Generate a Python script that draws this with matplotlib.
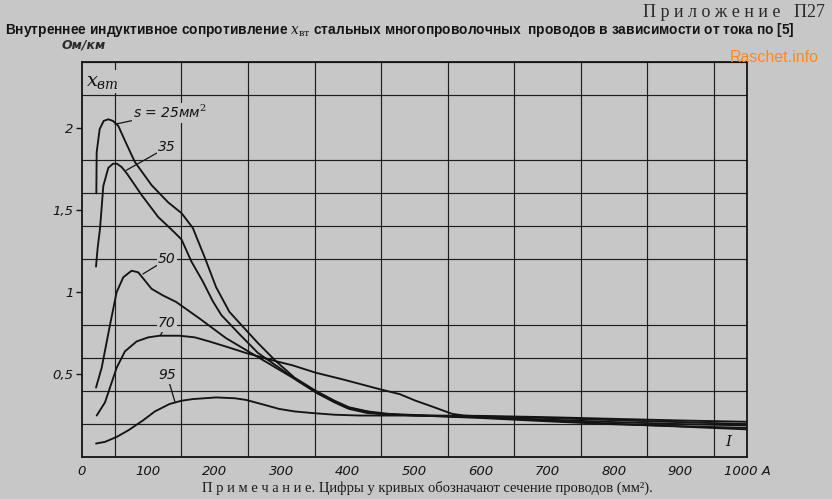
import matplotlib.pyplot as plt
from matplotlib.ticker import MultipleLocator

plt.rcParams['mathtext.fontset'] = 'dejavuserif'

# current, A  /  x_вт, Ом/км
x25 = [22, 22.5, 27, 33, 40, 47, 55, 65, 80, 105, 130, 150, 167, 185, 202, 222, 240,
       265, 292, 320, 352, 380, 402, 430, 462, 520, 600, 700, 800, 900, 1000]
y25 = [1.60, 1.85, 1.99, 2.04, 2.05, 2.04, 2.01, 1.92, 1.79, 1.65, 1.545, 1.48, 1.39,
       1.21, 1.03, 0.88, 0.80, 0.69, 0.58, 0.48, 0.40, 0.34, 0.30, 0.275, 0.26, 0.25,
       0.24, 0.22, 0.20, 0.183, 0.166]

x35 = [21.5, 24, 27.5, 32.5, 40, 47, 53, 60, 68, 90, 115, 135, 150, 165, 182, 197, 210,
       237, 265, 297, 325, 352, 380, 402, 430, 470, 520, 600, 700, 800, 900, 1000]
y35 = [1.155, 1.27, 1.385, 1.645, 1.755, 1.78, 1.78, 1.76, 1.72, 1.59, 1.456, 1.38,
       1.32, 1.185, 1.065, 0.945, 0.86, 0.745, 0.63, 0.54, 0.46, 0.39, 0.33, 0.29,
       0.265, 0.255, 0.248, 0.235, 0.215, 0.197, 0.185, 0.175]

x50 = [21.5, 30, 42.5, 52.5, 62.5, 75, 85, 95, 105, 122, 142, 177, 217, 267, 317, 357,
       397, 447, 500, 600, 700, 800, 900, 1000]
y50 = [0.42, 0.54, 0.80, 1.0, 1.09, 1.13, 1.12, 1.07, 1.02, 0.98, 0.94, 0.84, 0.72,
       0.60, 0.48, 0.38, 0.30, 0.26, 0.25, 0.24, 0.225, 0.21, 0.198, 0.19]

x70 = [22.5, 35, 52.5, 65, 82.5, 100, 117, 147, 170, 192, 220, 247, 292, 317, 352, 392,
       448, 478, 502, 530, 557, 575, 600, 700, 800, 900, 1000]
y70 = [0.25, 0.33, 0.54, 0.64, 0.70, 0.725, 0.735, 0.735, 0.725, 0.70, 0.665, 0.63,
       0.58, 0.555, 0.51, 0.47, 0.41, 0.38, 0.34, 0.30, 0.26, 0.25, 0.245, 0.235,
       0.222, 0.21, 0.198]

x95 = [21.5, 35, 52.5, 70, 92, 110, 132, 150, 167, 202, 230, 247, 270, 297, 320, 347,
       380, 417, 470, 517, 600, 700, 800, 900, 1000]
y95 = [0.08, 0.09, 0.12, 0.16, 0.22, 0.275, 0.32, 0.34, 0.35, 0.36, 0.355, 0.345, 0.32,
       0.29, 0.275, 0.265, 0.255, 0.25, 0.25, 0.25, 0.248, 0.24, 0.23, 0.22, 0.212]

curve_labels = [r's = 25мм$^{2}$', '35', '50', '70', '95']
# label anchor (text) and the point on the curve the leader goes to
label_xy = [(77, 2.09), (115, 1.88), (115, 1.20), (115, 0.81), (115, 0.495)]
leader_to = [(50, 2.02), (67, 1.74), (92, 1.11), (118, 0.735), (140, 0.335)]

xticks = list(range(0, 1001, 100))
xtick_labels = [str(v) for v in xticks[:-1]] + ['1000 A']
yticks = [0.5, 1, 1.5, 2]
ytick_labels = ['0,5', '1', '1,5', '2']

bg = '#c7c7c7'
ink = '#141414'

fig = plt.figure(figsize=(8.32, 4.99), dpi=100, facecolor=bg)
ax = fig.add_axes([0.0982, 0.0848, 0.7996, 0.7916], facecolor=bg)

for xs, ys in [(x25, y25), (x35, y35), (x50, y50), (x70, y70), (x95, y95)]:
    ax.plot(xs, ys, color=ink, lw=1.35, solid_capstyle='round', zorder=3)

ax.set_xlim(0, 1000)
ax.set_ylim(0, 2.4)
ax.xaxis.set_minor_locator(MultipleLocator(50))
ax.yaxis.set_minor_locator(MultipleLocator(0.2))
ax.grid(which='minor', color='#1e1e1e', lw=0.85, zorder=1)
ax.set_axisbelow(True)
for sp in ax.spines.values():
    sp.set_color(ink)
    sp.set_linewidth(1.3)

ax.set_xticks(xticks)
ax.set_xticklabels(xtick_labels, style='italic', fontsize=9.5, color=ink)
ax.set_yticks(yticks)
ax.set_yticklabels(ytick_labels, style='italic', fontsize=9.5, color=ink)
ax.tick_params(axis='x', which='both', length=0, pad=6)
ax.tick_params(axis='y', which='major', length=4, width=1, color=ink, pad=2)
ax.tick_params(axis='y', which='minor', length=0)

for txt, (tx, ty), (px, py) in zip(curve_labels, label_xy, leader_to):
    ax.annotate(txt, xy=(px, py), xytext=(tx, ty), textcoords='data',
                fontsize=10, style='italic', color=ink, va='center', ha='left',
                bbox=dict(boxstyle='square,pad=0.1', fc=bg, ec='none'),
                arrowprops=dict(arrowstyle='-', color=ink, lw=0.9,
                                shrinkA=0, shrinkB=0), zorder=4)

ax.text(6, 2.28, r'$x_{\mathit{вт}}$', fontsize=14, color=ink, va='center',
        bbox=dict(boxstyle='square,pad=0.1', fc=bg, ec='none'), zorder=4)
ax.text(972, 0.09, 'I', fontsize=11, style='italic', family='DejaVu Serif',
        color=ink, ha='center', va='center')

fig.text(0.992, 0.974, 'П р и л о ж е н и е   П27', ha='right', va='center',
         fontsize=13, family='Liberation Serif', color='#2a2a2a')
title = fig.text(0.006, 0.94,
                 r'Внутреннее индуктивное сопротивление $x_{\mathrm{вт}}$ стальных '
                 'многопроволочных  проводов в зависимости от тока по [5]',
                 ha='left', va='center', fontsize=11, fontweight='bold',
                 family='Liberation Sans', color=ink)
fig.text(0.0745, 0.91, 'Ом/км', ha='left', va='center', fontsize=9,
         style='italic', fontweight='bold', color='#2a2a2a')
fig.text(0.931, 0.884, 'Raschet.info', ha='center', va='center', fontsize=11.5,
         family='Liberation Sans', color='#ff8a1c')
fig.text(0.514, 0.022,
         'П р и м е ч а н и е. Цифры у кривых обозначают сечение проводов (мм²).',
         ha='center', va='center', fontsize=10.5, family='Liberation Serif',
         color='#1a1a1a')

# the scan's title is set in a narrow face: shrink until it spans the page width
r = fig.canvas.get_renderer()
w = title.get_window_extent(r).width
if w > 785:
    title.set_fontsize(11 * 785 / w)

fig.savefig('out.png', dpi=100, facecolor=bg)
